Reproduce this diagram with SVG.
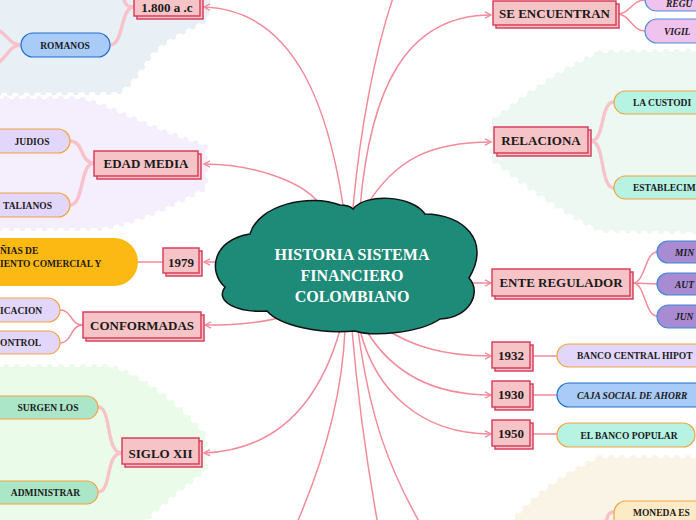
<svg xmlns="http://www.w3.org/2000/svg" width="696" height="520" viewBox="0 0 696 520">
<defs>
<style>
.reg{stroke-width:6;stroke-dasharray:0 11;stroke-linecap:round}
.box{fill:#f6c3c6;stroke:#d8405d;stroke-width:1.5}
.nt{font-family:"Liberation Serif",serif;font-weight:bold;font-size:13px;fill:#1a1a1a;text-anchor:middle}
.pt{font-family:"Liberation Serif",serif;font-weight:bold;font-size:9.5px;fill:#1a1a1a}
.it{font-style:italic}
.con{fill:none;stroke:#f28b9b;stroke-width:1.5}
.sub{fill:none;stroke:#f28b9b;stroke-width:1.5}
.pale{fill:none;stroke:#f7c2ca;stroke-width:3.5;stroke-linecap:round}
.lav{fill:#e2d6fa;stroke:#f3a23e;stroke-width:1.2}
.blu{fill:#a9cbf8;stroke:#1f6fd0;stroke-width:1.2}
.mint{fill:#b6f3e3;stroke:#f3a23e;stroke-width:1.2}
.grn{fill:#ace6c8;stroke:#f3a23e;stroke-width:1.2}
.mag{fill:#f0c2ee;stroke:#4a90d9;stroke-width:1.2}
.pur{fill:#a98bd3;stroke:#3b87d6;stroke-width:1.2}
</style>
<marker id="arr" markerWidth="9" markerHeight="9" refX="7" refY="4" orient="auto" markerUnits="userSpaceOnUse"><path d="M1,0.8 L7,4 L1,7.2" fill="none" stroke="#f28b9b" stroke-width="1.4"/></marker>
</defs>
<rect width="696" height="520" fill="#ffffff"/>
<g id="regions">
<path class="reg" fill="#e8f0f6" stroke="#e8f0f6" d="M-5,-5 L208,-5 L206,20 C190,28 165,38 150,55 C140,70 130,85 118,92 L-5,93 Z"/>
<path class="reg" fill="#f5eefc" stroke="#f5eefc" d="M-5,99 L80,99 C110,106 150,130 205,146 L205,188 C170,205 140,222 100,228 L-5,228 Z"/>
<path class="reg" fill="#ebfbea" stroke="#ebfbea" d="M-5,367 L110,367 C140,376 180,405 205,436 L205,470 C185,485 165,500 140,525 L-5,525 Z"/>
<path class="reg" fill="#eef8f2" stroke="#eef8f2" d="M600,53 L705,51 L705,232 L600,230 C570,215 530,190 492,158 L492,122 C520,100 560,70 600,53 Z"/>
<path class="reg" fill="#faf4e6" stroke="#faf4e6" d="M600,458 L705,458 L705,530 L505,530 C530,500 560,476 600,458 Z"/>
</g>
<g id="connectors">
<path class="con" marker-end="url(#arr)" d="M343,205 C330,120 300,10 204,7"/>
<path class="con" d="M353,208 C360,130 375,50 394,-5"/>
<path class="con" marker-end="url(#arr)" d="M360,208 C370,90 405,15 491,15"/>
<path class="con" marker-end="url(#arr)" d="M367,205 C395,160 430,142 491,142"/>
<path class="con" marker-end="url(#arr)" d="M318,202 C300,180 250,164 204,164"/>
<path class="con" marker-end="url(#arr)" d="M219,262 L204,262"/>
<path class="con" marker-end="url(#arr)" d="M292,314 C270,322 240,325 205,325"/>
<path class="con" marker-end="url(#arr)" d="M470,283 L491,283"/>
<path class="con" marker-end="url(#arr)" d="M382,327 C410,345 440,356 491,356"/>
<path class="con" marker-end="url(#arr)" d="M366,330 C390,370 430,395 491,395"/>
<path class="con" marker-end="url(#arr)" d="M360,330 C375,390 420,434 491,434"/>
<path class="con" marker-end="url(#arr)" d="M340,330 C320,400 280,450 204,453"/>
<path class="con" d="M345,330 C342,400 320,470 296,525"/>
<path class="con" d="M352,330 C358,400 368,470 378,525"/>
<path class="con" d="M358,330 C370,420 390,470 421,525"/>
<path class="pale" d="M134,7 C124,7 126,2 122,-4"/>
<path class="pale" d="M134,7 C120,7 124,45 110,45"/>
<path class="pale" d="M21,45 C10,45 8,35 -2,30"/>
<path class="pale" d="M21,45 C10,45 8,56 -2,63"/>
<path class="pale" d="M94,163 C80,163 84,141 70,141"/>
<path class="pale" d="M94,163 C80,163 84,205 70,205"/>
<path class="sub" d="M163,262 L138,262"/>
<path class="sub" d="M83,325 C70,325 72,310 60,310"/>
<path class="sub" d="M83,325 C70,325 72,343 60,343"/>
<path class="pale" stroke-dasharray="4 2" d="M122,453 C105,453 112,407 98,407"/>
<path class="pale" stroke-dasharray="4 2" d="M122,453 C105,453 112,492 98,492"/>
<path class="sub" d="M617,14 C630,14 632,0 645,0"/>
<path class="sub" d="M617,14 C630,14 632,31 645,31"/>
<path class="pale" stroke-dasharray="4 2" d="M591,141 C605,141 600,102 614,102"/>
<path class="pale" stroke-dasharray="4 2" d="M591,141 C605,141 600,188 614,188"/>
<path class="sub" d="M633,283 C645,283 645,252 657,252"/>
<path class="sub" d="M633,283 L657,284"/>
<path class="sub" d="M633,283 C645,283 645,316 657,316"/>
<path class="sub" d="M533,356 L557,356"/>
<path class="sub" d="M533,395 L557,395"/>
<path class="sub" d="M533,434 L557,434"/>
<path class="pale" d="M614,512 C606,512 608,520 604,526"/>
</g>
<g id="center">
<path fill="#1e8a78" stroke="#111" stroke-width="1.5" d="M225,287 C208,272 212,240 250,234 C258,205 310,193 340,205 C348,205 351,207 353,209 C365,193 412,195 425,214 C462,214 492,240 469,278 C482,292 470,318 440,319 C420,333 372,337 355,331 C320,334 280,326 267,311 C238,313 214,302 225,287 Z"/>
<text font-family="'Liberation Serif',serif" font-weight="bold" font-size="16" fill="#ffffff" text-anchor="middle"><tspan x="352" y="260">HISTORIA SISTEMA</tspan><tspan x="352" y="281">FINANCIERO</tspan><tspan x="352" y="302">COLOMBIANO</tspan></text>
</g>
<g id="n1800"><rect class="box" x="137" y="-1" width="66" height="20"/><rect class="box" x="134" y="-4" width="66" height="20"/><text class="nt" x="167" y="11.5" font-size="11.5">1.800 a .c</text></g>
<g id="romanos"><rect class="blu" x="21" y="33" width="89" height="24" rx="12"/><text class="pt" x="65" y="48.5" text-anchor="middle" fill="#1a4a3a">ROMANOS</text></g>
<g id="edadmedia"><rect class="box" x="97" y="154" width="104" height="25"/><rect class="box" x="94" y="151" width="104" height="25"/><text class="nt" x="146" y="168">EDAD MEDIA</text></g>
<g id="judios"><rect class="lav" x="-20" y="129" width="90" height="24" rx="12"/><text class="pt" x="32" y="144.5" text-anchor="middle">JUDIOS</text></g>
<g id="italianos"><rect class="lav" x="-20" y="193" width="90" height="24" rx="12"/><text class="pt" x="52" y="208.5" text-anchor="end">TALIANOS</text></g>
<g id="n1979"><rect class="box" x="166" y="251" width="36" height="25"/><rect class="box" x="163" y="248" width="36" height="25"/><text class="nt" x="181" y="267" font-size="12">1979</text></g>
<g id="companias"><rect x="-40" y="238" width="178" height="48" rx="24" fill="#fdb913"/><text class="pt"><tspan x="0" y="254">ÑIAS DE</tspan><tspan x="0" y="267">IENTO COMERCIAL Y</tspan></text></g>
<g id="conformadas"><rect class="box" x="86" y="315" width="118" height="26"/><rect class="box" x="83" y="312" width="118" height="26"/><text class="nt" x="142" y="330">CONFORMADAS</text></g>
<g id="clasificacion"><rect class="lav" x="-20" y="298" width="80" height="24" rx="12"/><text class="pt" x="0" y="313.5">ICACION</text></g>
<g id="control"><rect class="lav" x="-20" y="331" width="80" height="23" rx="11.5"/><text class="pt" x="0" y="346">ONTROL</text></g>
<g id="siglo"><rect class="box" x="125" y="441" width="77" height="26"/><rect class="box" x="122" y="438" width="77" height="26"/><text class="nt" x="160.5" y="458">SIGLO XII</text></g>
<g id="surgen"><rect class="grn" x="-20" y="396" width="118" height="23" rx="11.5"/><text class="pt" x="48" y="411" text-anchor="middle">SURGEN LOS</text></g>
<g id="administrar"><rect class="grn" x="-20" y="481" width="118" height="23" rx="11.5"/><text class="pt" x="80" y="496" text-anchor="end">ADMINISTRAR</text></g>
<g id="encuentran"><rect class="box" x="496" y="4" width="123" height="24"/><rect class="box" x="493" y="1" width="123" height="24"/><text class="nt" x="554.5" y="18">SE ENCUENTRAN</text></g>
<g id="regu"><rect class="mag" x="645" y="-12" width="80" height="23" rx="11.5"/><text class="pt it" x="666" y="7" fill="#1c1f4a">REGU</text></g>
<g id="vigil"><rect class="mag" x="645" y="19" width="80" height="24" rx="12"/><text class="pt it" x="664" y="34.5" fill="#1c1f4a">VIGIL</text></g>
<g id="relaciona"><rect class="box" x="497" y="130" width="94" height="26"/><rect class="box" x="494" y="127" width="94" height="26"/><text class="nt" x="541" y="145">RELACIONA</text></g>
<g id="custodia"><rect class="mint" x="614" y="91" width="100" height="23" rx="11.5"/><text class="pt" x="633" y="106">LA CUSTODI</text></g>
<g id="establecim"><rect class="mint" x="614" y="176" width="100" height="23" rx="11.5"/><text class="pt" x="633" y="191">ESTABLECIM</text></g>
<g id="ente"><rect class="box" x="495" y="272" width="138" height="27"/><rect class="box" x="492" y="269" width="138" height="27"/><text class="nt" x="561" y="287">ENTE REGULADOR</text></g>
<g id="min"><rect class="pur" x="657" y="241" width="60" height="22" rx="11"/><text class="pt it" x="675" y="255.5" fill="#1c1f4a">MIN</text></g>
<g id="aut"><rect class="pur" x="657" y="273" width="60" height="22" rx="11"/><text class="pt it" x="675" y="287.5" fill="#1c1f4a">AUT</text></g>
<g id="jun"><rect class="pur" x="657" y="305" width="60" height="23" rx="11.5"/><text class="pt it" x="675" y="320" fill="#1c1f4a">JUN</text></g>
<g id="n1932"><rect class="box" x="495" y="345" width="38" height="26"/><rect class="box" x="492" y="342" width="38" height="26"/><text class="nt" x="511" y="360" font-size="12">1932</text></g>
<g id="n1930"><rect class="box" x="495" y="384" width="38" height="26"/><rect class="box" x="492" y="381" width="38" height="26"/><text class="nt" x="511" y="399" font-size="12">1930</text></g>
<g id="n1950"><rect class="box" x="495" y="423" width="38" height="26"/><rect class="box" x="492" y="420" width="38" height="26"/><text class="nt" x="511" y="438" font-size="12">1950</text></g>
<g id="bancocentral"><rect class="lav" x="557" y="344" width="160" height="23" rx="11.5"/><text class="pt" x="577" y="359">BANCO CENTRAL HIPOT</text></g>
<g id="cajasocial"><rect class="blu" x="557" y="383" width="160" height="24" rx="12"/><text class="pt it" x="577" y="398.5" fill="#1a4a3a">CAJA SOCIAL DE AHORR</text></g>
<g id="bancopopular"><rect class="mint" x="557" y="423" width="138" height="24" rx="12"/><text class="pt" x="629" y="438.5" text-anchor="middle">EL BANCO POPULAR</text></g>
<g id="moneda"><rect x="614" y="501" width="100" height="30" rx="12" fill="#fdebc8" stroke="#f3a23e" stroke-width="1.2"/><text class="pt" x="633" y="516">MONEDA ES</text></g>
</svg>
